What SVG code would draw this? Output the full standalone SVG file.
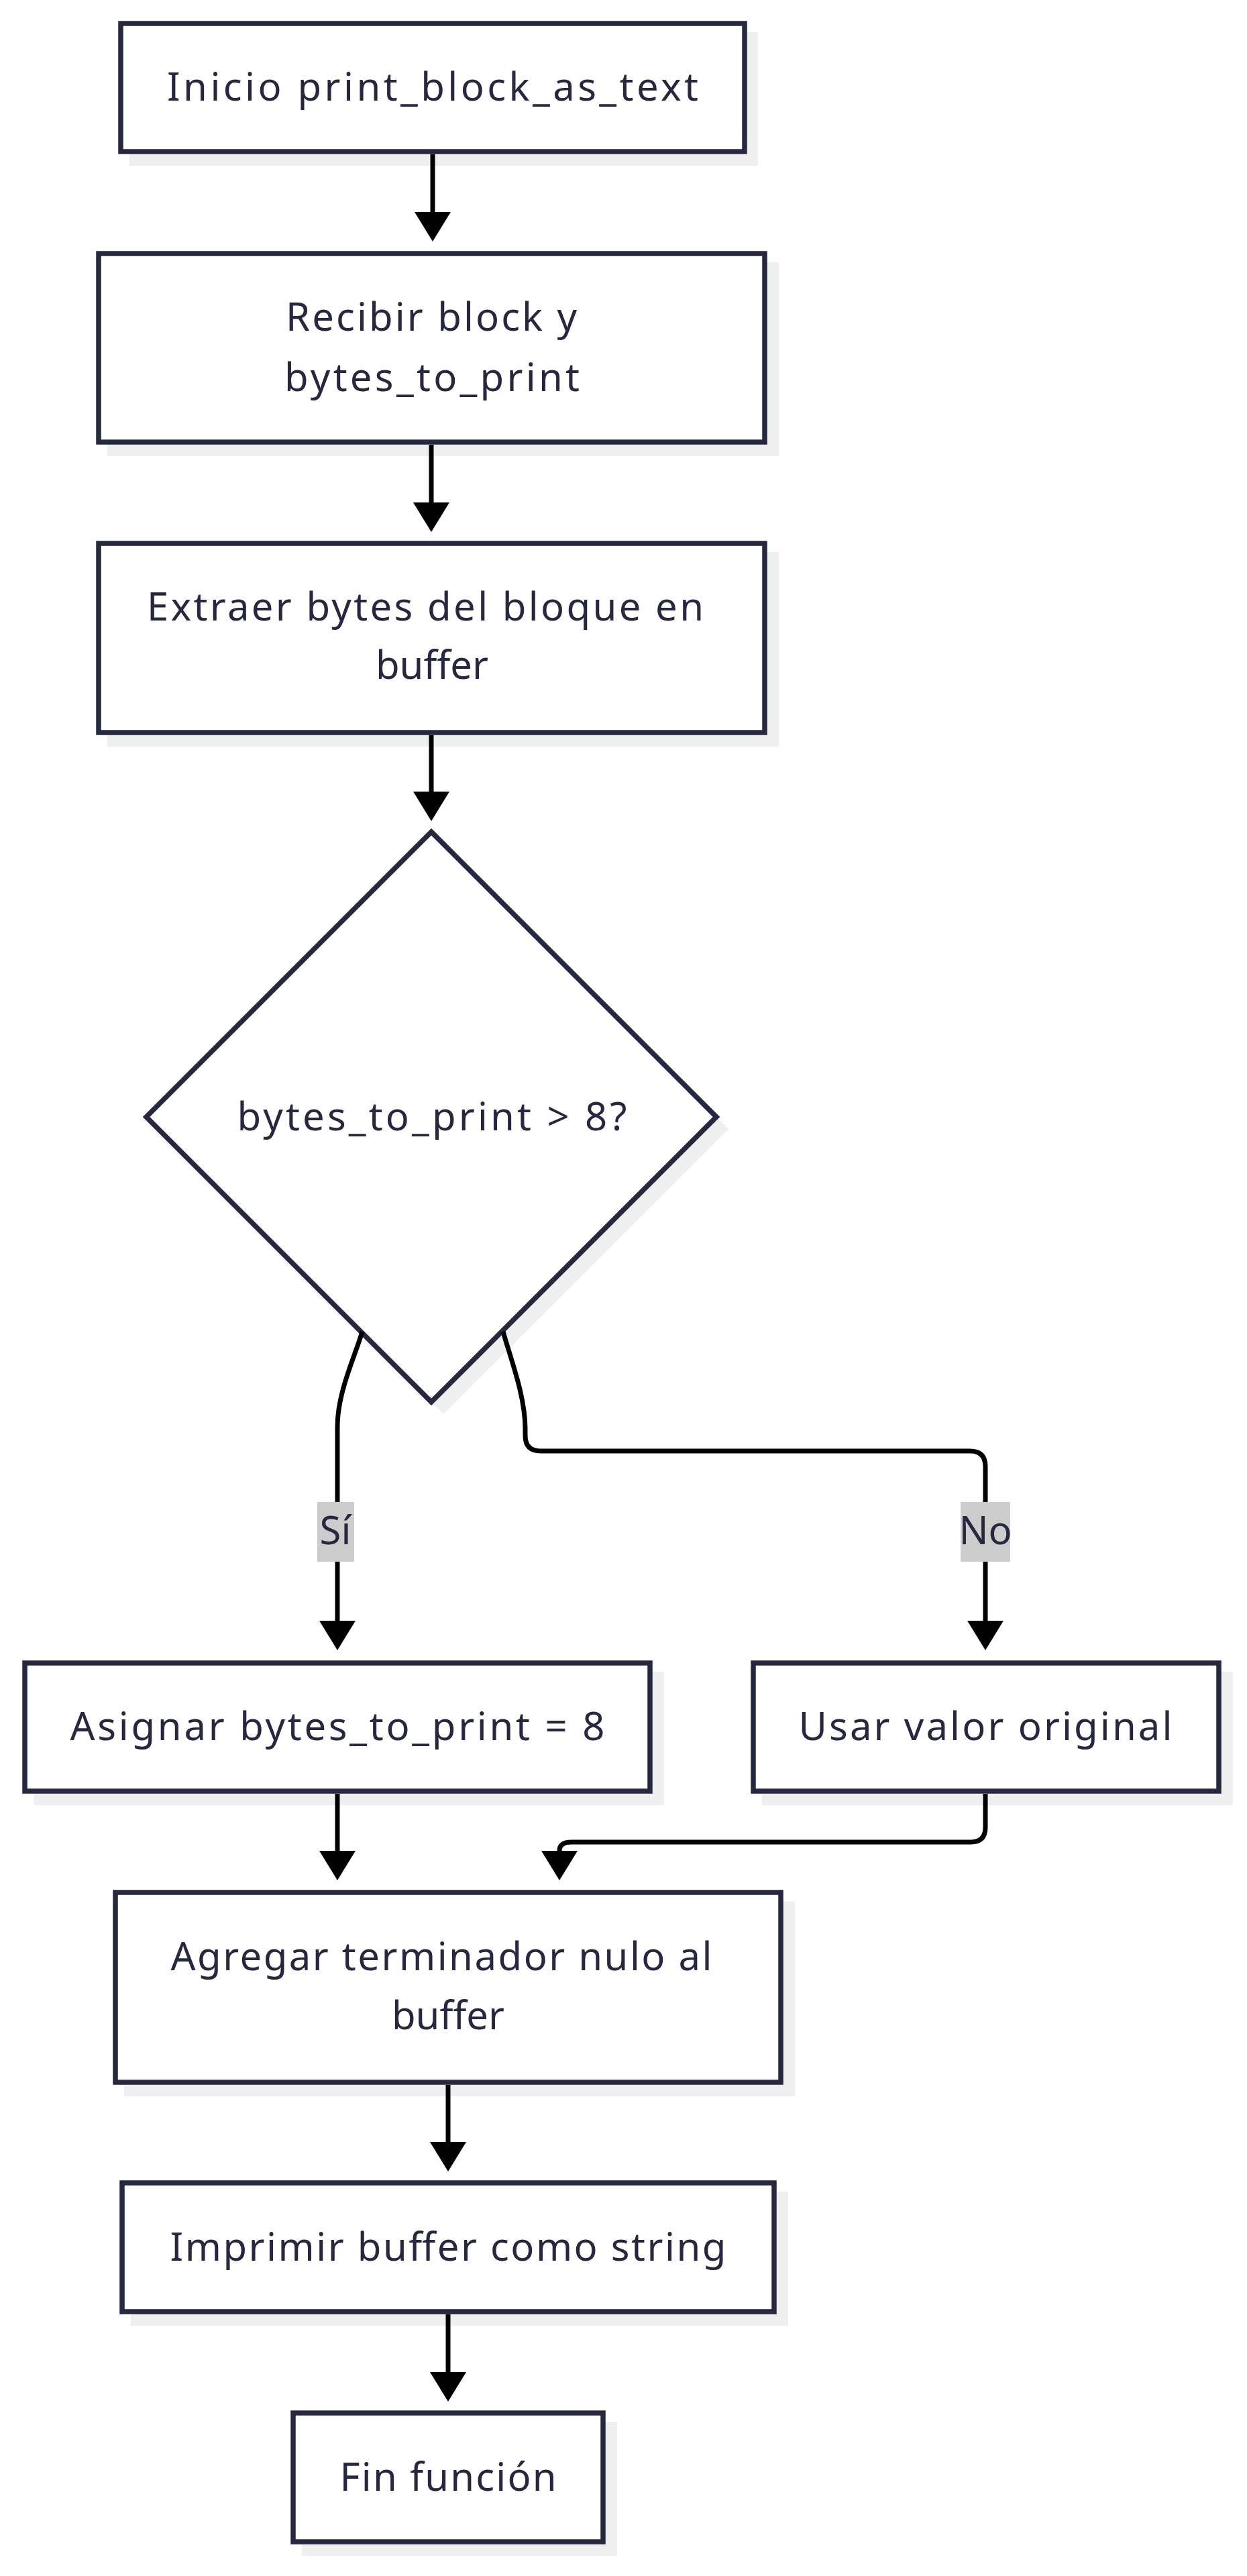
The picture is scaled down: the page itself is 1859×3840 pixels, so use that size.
<svg xmlns="http://www.w3.org/2000/svg" width="1859" height="3840" viewBox="0 0 1859 3840">
<style>
.bg{fill:#ffffff}
.node{fill:#ffffff;stroke:#27273f;stroke-width:7.5}
.shadow{fill:#efefef;stroke:none}
.lbl{font-family:"Noto Sans","Open Sans",sans-serif;font-size:58px;fill:#27273f;text-anchor:middle}
.edge{fill:none;stroke:#000000;stroke-width:7}
.elbg{fill:#cccccc}
</style>
<defs>
<marker id="arrow" markerUnits="userSpaceOnUse" markerWidth="46" markerHeight="56" refX="0" refY="27" orient="auto">
<path d="M0,0 L44,27 L0,54 z" fill="#000000"/>
</marker>
</defs>
<rect class="bg" x="0" y="0" width="1859" height="3840"/>

<g id="inicio">
<rect class="shadow" x="193" y="48" width="937" height="199"/>
<rect class="node" x="180" y="35" width="930" height="191"/>
<text class="lbl" x="645" y="150" textLength="792" lengthAdjust="spacing">Inicio print_block_as_text</text>
</g>

<g id="recibir">
<rect class="shadow" x="160" y="391" width="1001" height="289"/>
<rect class="node" x="147" y="378" width="993" height="281"/>
<text class="lbl" x="643" y="493" textLength="434" lengthAdjust="spacing">Recibir block y</text>
<text class="lbl" x="644" y="583" textLength="440" lengthAdjust="spacing">bytes_to_print</text>
</g>

<g id="extraer">
<rect class="shadow" x="160" y="823" width="1001" height="290"/>
<rect class="node" x="147" y="810" width="993" height="282"/>
<text class="lbl" x="634" y="925" textLength="830" lengthAdjust="spacing">Extraer bytes del bloque en</text>
<text class="lbl" x="644" y="1012">buffer</text>
</g>

<g id="decision">
<polygon class="shadow" points="661,1258 1086,1683 661,2108 236,1683"/>
<polygon class="node" points="643,1240 1068,1665 643,2090 218,1665"/>
<text class="lbl" x="644" y="1685" textLength="581" lengthAdjust="spacing">bytes_to_print &gt; 8?</text>
</g>

<g id="asignar">
<rect class="shadow" x="50" y="2492" width="940" height="199"/>
<rect class="node" x="37" y="2479" width="932" height="191"/>
<text class="lbl" x="503" y="2594" textLength="797" lengthAdjust="spacing">Asignar bytes_to_print = 8</text>
</g>

<g id="usar">
<rect class="shadow" x="1136" y="2492" width="702" height="199"/>
<rect class="node" x="1123" y="2479" width="694" height="191"/>
<text class="lbl" x="1469" y="2594" textLength="557" lengthAdjust="spacing">Usar valor original</text>
</g>

<g id="agregar">
<rect class="shadow" x="185" y="2834" width="1000" height="291"/>
<rect class="node" x="172" y="2821" width="992" height="283"/>
<text class="lbl" x="658" y="2937" textLength="807" lengthAdjust="spacing">Agregar terminador nulo al</text>
<text class="lbl" x="668" y="3025">buffer</text>
</g>

<g id="imprimir">
<rect class="shadow" x="195" y="3267" width="980" height="200"/>
<rect class="node" x="182" y="3254" width="972" height="192"/>
<text class="lbl" x="668" y="3370" textLength="829" lengthAdjust="spacing">Imprimir buffer como string</text>
</g>

<g id="fin">
<rect class="shadow" x="450" y="3610" width="470" height="200"/>
<rect class="node" x="437" y="3597" width="462" height="192"/>
<text class="lbl" x="668" y="3713" textLength="323" lengthAdjust="spacing">Fin función</text>
</g>

<g id="connectors">
<path class="edge" marker-end="url(#arrow)" d="M645,230 L645,316"/>
<path class="edge" marker-end="url(#arrow)" d="M643,663 L643,749"/>
<path class="edge" marker-end="url(#arrow)" d="M643,1096 L643,1180"/>
<path class="edge" marker-end="url(#arrow)" d="M540,1985 C530,2020 503,2075 503,2127 L503,2416"/>
<path class="edge" marker-end="url(#arrow)" d="M750,1985 C760,2022 783,2080 783,2130 L783,2140 Q783,2163 806,2163 L1446,2163 Q1469,2163 1469,2186 L1469,2416"/>
<path class="edge" marker-end="url(#arrow)" d="M503,2674 L503,2759"/>
<path class="edge" marker-end="url(#arrow)" d="M1469,2674 L1469,2724 Q1469,2746 1447,2746 L852,2746 Q834,2746 834,2759"/>
<path class="edge" marker-end="url(#arrow)" d="M668,3108 L668,3193"/>
<path class="edge" marker-end="url(#arrow)" d="M668,3450 L668,3536"/>
<g id="label-si">
<rect class="elbg" x="473" y="2239" width="55" height="89"/>
<text class="lbl" x="500" y="2302">Sí</text>
</g>
<g id="label-no">
<rect class="elbg" x="1432" y="2239" width="74" height="89"/>
<text class="lbl" x="1469" y="2302">No</text>
</g>
</g>
</svg>
